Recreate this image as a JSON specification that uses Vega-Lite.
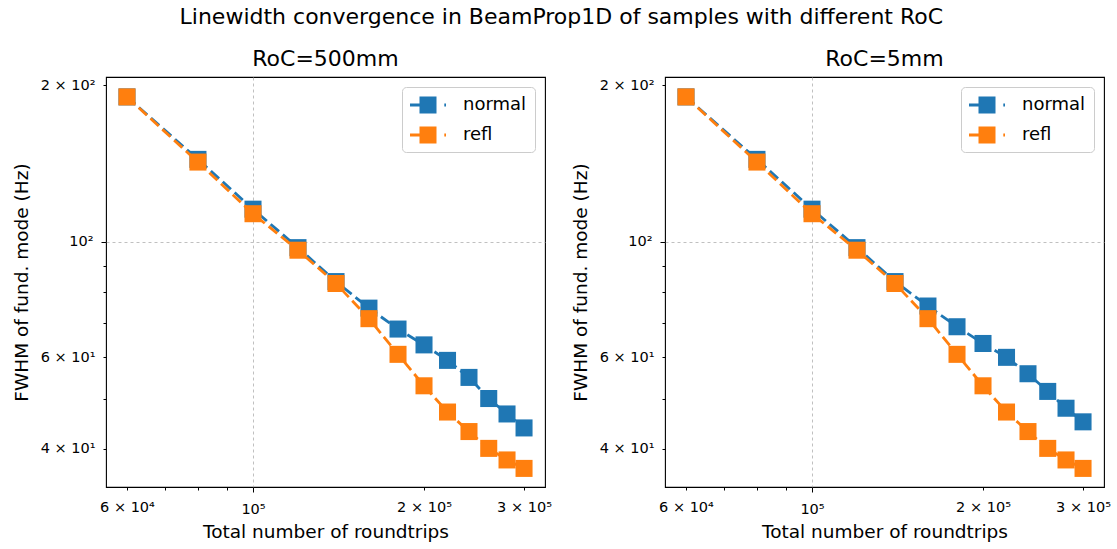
{
  "$schema": "https://vega.github.io/schema/vega-lite/v6.json",
  "background": "white",
  "padding": {"left": 11, "top": 6, "right": 5, "bottom": 5},
  "title": {"text": "Linewidth convergence in BeamProp1D of samples with different RoC", "fontSize": 22, "fontWeight": "normal", "anchor": "middle", "offset": 18, "color": "#000"},
  "datasets": {
    "pts": [
      {"panel": "RoC=500mm", "series": "normal", "n": 60000, "fwhm": 190},
      {"panel": "RoC=500mm", "series": "normal", "n": 80000, "fwhm": 144.1},
      {"panel": "RoC=500mm", "series": "normal", "n": 100000, "fwhm": 115.6},
      {"panel": "RoC=500mm", "series": "normal", "n": 120000, "fwhm": 97.5},
      {"panel": "RoC=500mm", "series": "normal", "n": 140000, "fwhm": 83.9},
      {"panel": "RoC=500mm", "series": "normal", "n": 160000, "fwhm": 74.6},
      {"panel": "RoC=500mm", "series": "normal", "n": 180000, "fwhm": 68.0},
      {"panel": "RoC=500mm", "series": "normal", "n": 200000, "fwhm": 63.4},
      {"panel": "RoC=500mm", "series": "normal", "n": 220000, "fwhm": 59.2},
      {"panel": "RoC=500mm", "series": "normal", "n": 240000, "fwhm": 54.9},
      {"panel": "RoC=500mm", "series": "normal", "n": 260000, "fwhm": 50.0},
      {"panel": "RoC=500mm", "series": "normal", "n": 280000, "fwhm": 46.7},
      {"panel": "RoC=500mm", "series": "normal", "n": 300000, "fwhm": 43.9},
      {"panel": "RoC=500mm", "series": "refl", "n": 60000, "fwhm": 190},
      {"panel": "RoC=500mm", "series": "refl", "n": 80000, "fwhm": 142.4},
      {"panel": "RoC=500mm", "series": "refl", "n": 100000, "fwhm": 113.3},
      {"panel": "RoC=500mm", "series": "refl", "n": 120000, "fwhm": 96.4},
      {"panel": "RoC=500mm", "series": "refl", "n": 140000, "fwhm": 83.2},
      {"panel": "RoC=500mm", "series": "refl", "n": 160000, "fwhm": 71.2},
      {"panel": "RoC=500mm", "series": "refl", "n": 180000, "fwhm": 60.8},
      {"panel": "RoC=500mm", "series": "refl", "n": 200000, "fwhm": 52.9},
      {"panel": "RoC=500mm", "series": "refl", "n": 220000, "fwhm": 47.1},
      {"panel": "RoC=500mm", "series": "refl", "n": 240000, "fwhm": 43.2},
      {"panel": "RoC=500mm", "series": "refl", "n": 260000, "fwhm": 40.1},
      {"panel": "RoC=500mm", "series": "refl", "n": 280000, "fwhm": 38.1},
      {"panel": "RoC=500mm", "series": "refl", "n": 300000, "fwhm": 36.7},
      {"panel": "RoC=5mm", "series": "normal", "n": 60000, "fwhm": 190},
      {"panel": "RoC=5mm", "series": "normal", "n": 80000, "fwhm": 144.1},
      {"panel": "RoC=5mm", "series": "normal", "n": 100000, "fwhm": 115.6},
      {"panel": "RoC=5mm", "series": "normal", "n": 120000, "fwhm": 97.5},
      {"panel": "RoC=5mm", "series": "normal", "n": 140000, "fwhm": 83.9},
      {"panel": "RoC=5mm", "series": "normal", "n": 160000, "fwhm": 75.3},
      {"panel": "RoC=5mm", "series": "normal", "n": 180000, "fwhm": 68.7},
      {"panel": "RoC=5mm", "series": "normal", "n": 200000, "fwhm": 63.8},
      {"panel": "RoC=5mm", "series": "normal", "n": 220000, "fwhm": 60.0},
      {"panel": "RoC=5mm", "series": "normal", "n": 240000, "fwhm": 55.8},
      {"panel": "RoC=5mm", "series": "normal", "n": 260000, "fwhm": 51.6},
      {"panel": "RoC=5mm", "series": "normal", "n": 280000, "fwhm": 47.9},
      {"panel": "RoC=5mm", "series": "normal", "n": 300000, "fwhm": 45.1},
      {"panel": "RoC=5mm", "series": "refl", "n": 60000, "fwhm": 190},
      {"panel": "RoC=5mm", "series": "refl", "n": 80000, "fwhm": 142.4},
      {"panel": "RoC=5mm", "series": "refl", "n": 100000, "fwhm": 113.3},
      {"panel": "RoC=5mm", "series": "refl", "n": 120000, "fwhm": 96.4},
      {"panel": "RoC=5mm", "series": "refl", "n": 140000, "fwhm": 83.2},
      {"panel": "RoC=5mm", "series": "refl", "n": 160000, "fwhm": 71.2},
      {"panel": "RoC=5mm", "series": "refl", "n": 180000, "fwhm": 60.8},
      {"panel": "RoC=5mm", "series": "refl", "n": 200000, "fwhm": 52.9},
      {"panel": "RoC=5mm", "series": "refl", "n": 220000, "fwhm": 47.1},
      {"panel": "RoC=5mm", "series": "refl", "n": 240000, "fwhm": 43.2},
      {"panel": "RoC=5mm", "series": "refl", "n": 260000, "fwhm": 40.1},
      {"panel": "RoC=5mm", "series": "refl", "n": 280000, "fwhm": 38.1},
      {"panel": "RoC=5mm", "series": "refl", "n": 300000, "fwhm": 36.7}
    ]
  },
  "data": {"name": "pts"},
  "spacing": 120,
  "bounds": "flush",
  "resolve": {"scale": {"color": "independent", "x": "independent", "y": "independent"}, "legend": {"color": "independent"}, "axis": {"x": "independent", "y": "independent"}},
  "hconcat": [
    {
      "width": 439, "height": 410,
      "title": {"text": "RoC=500mm"},
      "transform": [{"filter": "datum.panel === 'RoC=500mm'"}],
      "encoding": {
        "x": {"field": "n", "type": "quantitative", "scale": {"type": "log", "domain": [55110, 326600], "nice": false, "zero": false},
          "axis": {"title": "Total number of roundtrips", "values": [60000, 70000, 80000, 90000, 100000, 200000, 300000], "labelPadding": 10, "titlePadding": 7,
            "labelExpr": "datum.value == 60000 ? '6 × 10⁴' : datum.value == 100000 ? '10⁵' : datum.value == 200000 ? '2 × 10⁵' : datum.value == 300000 ? '3 × 10⁵' : ''",
            "tickSize": {"condition": {"test": "datum.value == 100000", "value": 5}, "value": 3},
            "gridOpacity": {"condition": {"test": "datum.value == 100000", "value": 1}, "value": 0}}},
        "y": {"field": "fwhm", "type": "quantitative", "scale": {"type": "log", "domain": [33.8, 207.5], "nice": false, "zero": false},
          "axis": {"title": "FWHM of fund. mode (Hz)", "values": [40, 50, 60, 70, 80, 90, 100, 200], "labelPadding": 8, "titlePadding": 9,
            "labelExpr": "datum.value == 40 ? '4 × 10¹' : datum.value == 60 ? '6 × 10¹' : datum.value == 100 ? '10²' : datum.value == 200 ? '2 × 10²' : ''",
            "tickSize": {"condition": {"test": "datum.value == 100", "value": 5}, "value": 3},
            "gridOpacity": {"condition": {"test": "datum.value == 100", "value": 1}, "value": 0}}}
      },
      "layer": [
        {"transform": [{"filter": "datum.series === 'normal'"}], "mark": {"type": "line", "strokeDash": [11, 5], "strokeWidth": 2.8, "color": "#1f77b4"}, "encoding": {}},
        {"transform": [{"filter": "datum.series === 'normal'"}], "mark": {"type": "point", "shape": "square", "filled": true, "opacity": 1, "size": 290},
          "encoding": {"color": {"field": "series", "type": "nominal", "scale": {"domain": ["normal", "refl"], "range": ["#1f77b4", "#ff7f0e"]}, "legend": {"title": null}}}},
        {"transform": [{"filter": "datum.series === 'refl'"}], "mark": {"type": "line", "strokeDash": [11, 5], "strokeWidth": 2.8, "color": "#ff7f0e"}, "encoding": {}},
        {"transform": [{"filter": "datum.series === 'refl'"}], "mark": {"type": "point", "shape": "square", "filled": true, "opacity": 1, "size": 290},
          "encoding": {"color": {"field": "series", "type": "nominal", "scale": {"domain": ["normal", "refl"], "range": ["#1f77b4", "#ff7f0e"]}, "legend": {"title": null}}}}
      ]
    },
    {
      "width": 439, "height": 410,
      "title": {"text": "RoC=5mm"},
      "transform": [{"filter": "datum.panel === 'RoC=5mm'"}],
      "encoding": {
        "x": {"field": "n", "type": "quantitative", "scale": {"type": "log", "domain": [55110, 326600], "nice": false, "zero": false},
          "axis": {"title": "Total number of roundtrips", "values": [60000, 70000, 80000, 90000, 100000, 200000, 300000], "labelPadding": 10, "titlePadding": 7,
            "labelExpr": "datum.value == 60000 ? '6 × 10⁴' : datum.value == 100000 ? '10⁵' : datum.value == 200000 ? '2 × 10⁵' : datum.value == 300000 ? '3 × 10⁵' : ''",
            "tickSize": {"condition": {"test": "datum.value == 100000", "value": 5}, "value": 3},
            "gridOpacity": {"condition": {"test": "datum.value == 100000", "value": 1}, "value": 0}}},
        "y": {"field": "fwhm", "type": "quantitative", "scale": {"type": "log", "domain": [33.8, 207.5], "nice": false, "zero": false},
          "axis": {"title": "FWHM of fund. mode (Hz)", "values": [40, 50, 60, 70, 80, 90, 100, 200], "labelPadding": 8, "titlePadding": 9,
            "labelExpr": "datum.value == 40 ? '4 × 10¹' : datum.value == 60 ? '6 × 10¹' : datum.value == 100 ? '10²' : datum.value == 200 ? '2 × 10²' : ''",
            "tickSize": {"condition": {"test": "datum.value == 100", "value": 5}, "value": 3},
            "gridOpacity": {"condition": {"test": "datum.value == 100", "value": 1}, "value": 0}}}
      },
      "layer": [
        {"transform": [{"filter": "datum.series === 'normal'"}], "mark": {"type": "line", "strokeDash": [11, 5], "strokeWidth": 2.8, "color": "#1f77b4"}, "encoding": {}},
        {"transform": [{"filter": "datum.series === 'normal'"}], "mark": {"type": "point", "shape": "square", "filled": true, "opacity": 1, "size": 290},
          "encoding": {"color": {"field": "series", "type": "nominal", "scale": {"domain": ["normal", "refl"], "range": ["#1f77b4", "#ff7f0e"]}, "legend": {"title": null}}}},
        {"transform": [{"filter": "datum.series === 'refl'"}], "mark": {"type": "line", "strokeDash": [11, 5], "strokeWidth": 2.8, "color": "#ff7f0e"}, "encoding": {}},
        {"transform": [{"filter": "datum.series === 'refl'"}], "mark": {"type": "point", "shape": "square", "filled": true, "opacity": 1, "size": 290},
          "encoding": {"color": {"field": "series", "type": "nominal", "scale": {"domain": ["normal", "refl"], "range": ["#1f77b4", "#ff7f0e"]}, "legend": {"title": null}}}}
      ]
    }
  ],
  "config": {
    "font": "DejaVu Sans",
    "view": {"stroke": "#000", "strokeWidth": 1.1},
    "title": {"fontSize": 22, "fontWeight": "normal", "color": "#000", "offset": 6},
    "axis": {"domain": false, "labelFontSize": 14.5, "labelColor": "#000", "titleFontSize": 18.5, "titleFontWeight": "normal", "titleColor": "#000", "tickColor": "#000", "labelOverlap": false, "labelFlush": false, "gridColor": "#b0b0b0", "gridDash": [3, 3], "gridWidth": 0.8},
    "legend": {"orient": "top-right", "offset": 10, "padding": 8, "fillColor": "white", "strokeColor": "#cccccc", "cornerRadius": 4, "labelFontSize": 18, "labelColor": "#000", "symbolType": "M-1,-0.14H-0.05V0.14H-1Z M-0.05,-0.85H1.65V0.85H-0.05Z M2.43,-0.14H2.6V0.14H2.43Z", "symbolSize": 400, "symbolStrokeWidth": 0, "symbolOpacity": 1, "labelOffset": 33, "rowPadding": 11}
  }
}
